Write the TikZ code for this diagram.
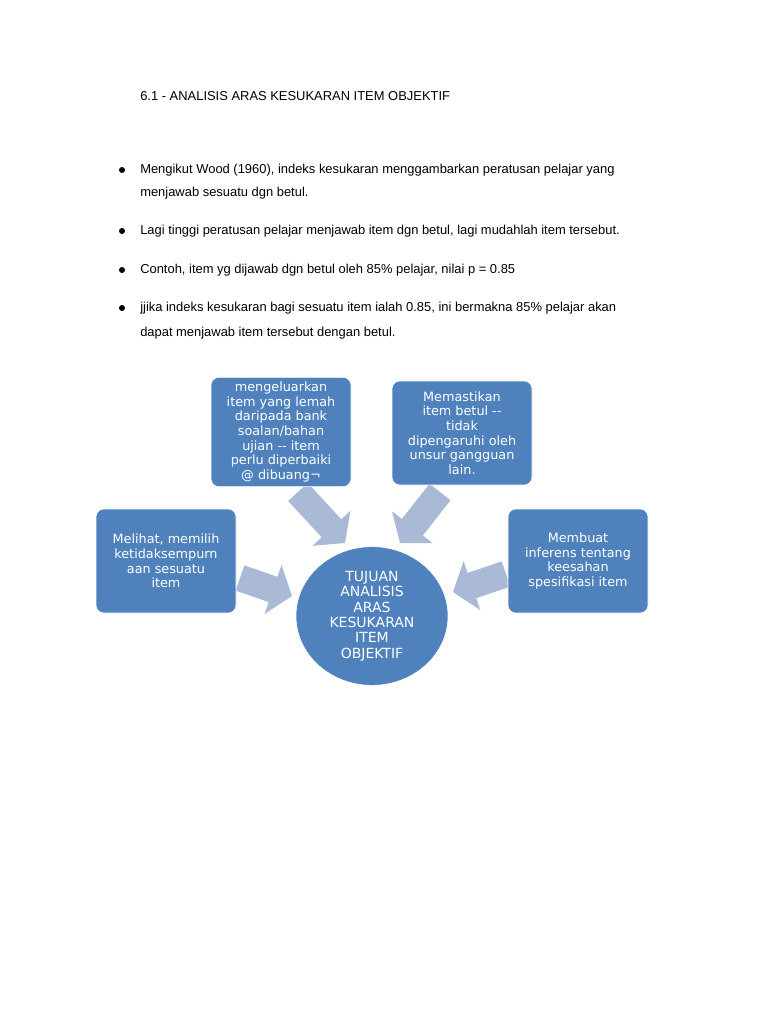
\documentclass[tikz,border=0pt]{standalone}
\usepackage{fontspec}
\setmainfont{Liberation Sans}
\newfontfamily\boxfont{DejaVu Sans}
\usetikzlibrary{arrows.meta,positioning,shapes.geometric}
\definecolor{boxblue}{HTML}{4F81BD}
\definecolor{arrowblue}{HTML}{A9B9D6}

\begin{document}
\begin{tikzpicture}[x=0.75pt,y=-0.75pt]
       \tikzset{
         txt/.style={anchor=west,font=\fontsize{9.7}{12}\selectfont,inner sep=0pt},
         bul/.style={circle,fill=black,inner sep=0pt,minimum size=4.5pt},
         goal/.style={rectangle,rounded corners=6pt,fill=boxblue,draw=white,
           text=white,minimum width=105pt,minimum height=78pt,align=center,
           font=\boxfont\fontsize{9.6}{11}\selectfont},
         fat/.style={draw=arrowblue,line width=20pt,
           -{Triangle[length=15pt,width=38pt]}}
       }
       \useasboundingbox[fill=white] (0,0) rectangle (768,1024);

       \node[txt] (title) at (140,96) {6.1 - ANALISIS ARAS KESUKARAN ITEM OBJEKTIF};

       \node[bul] (b1) at (122,170) {};
       \node[txt] (t1) at (140,170) {Mengikut Wood (1960), indeks kesukaran menggambarkan peratusan pelajar yang};
       \node[txt] (t1b) at (140,193) {menjawab sesuatu dgn betul.};
       \node[bul] (b2) at (122,231) {};
       \node[txt] (t2) at (140,231) {Lagi tinggi peratusan pelajar menjawab item dgn betul, lagi mudahlah item tersebut.};
       \node[bul] (b3) at (122,270) {};
       \node[txt] (t3) at (140,270) {Contoh, item yg dijawab dgn betul oleh 85\% pelajar, nilai p = 0.85};
       \node[bul] (b4) at (122,308) {};
       \node[txt] (t4) at (140,308) {jjika indeks kesukaran bagi sesuatu item ialah 0.85, ini bermakna 85\% pelajar akan};
       \node[txt] (t4b) at (140,333) {dapat menjawab item tersebut dengan betul.};

       % arrows first, boxes on top
       \coordinate (a1s) at (298,492); \coordinate (a1e) at (345,543);
       \coordinate (a2s) at (440,492); \coordinate (a2e) at (400,543);
       \coordinate (a3s) at (240,578); \coordinate (a3e) at (292,596);
       \coordinate (a4s) at (506,574); \coordinate (a4e) at (453,592);
       \draw[fat] (a1s) -- (a1e);
       \draw[fat] (a2s) -- (a2e);
       \draw[fat] (a3s) -- (a3e);
       \draw[fat] (a4s) -- (a4e);

       \node[goal] (buang) at (281,432) {mengeluarkan\\item yang lemah\\daripada bank\\soalan/bahan\\ujian -- item\\perlu diperbaiki\\@ dibuang¬};
       \node[goal] (pasti) at (462,433) {Memastikan\\item betul --\\tidak\\dipengaruhi oleh\\unsur gangguan\\lain.};
       \node[goal] (lihat) at (166,561) {Melihat, memilih\\ketidaksempurn\\aan sesuatu\\item};
       \node[goal] (buat) at (578,561) {Membuat\\inferens tentang\\keesahan\\spesifikasi item};
       \node[ellipse,fill=boxblue,draw=white,minimum width=114pt,minimum height=104pt,
         inner sep=0pt,text=white,align=center,
         font=\boxfont\fontsize{10.5}{11.5}\selectfont] (tujuan) at (372,616)
         {TUJUAN\\ANALISIS\\ARAS\\KESUKARAN\\ITEM\\OBJEKTIF};
\end{tikzpicture}
\end{document}
